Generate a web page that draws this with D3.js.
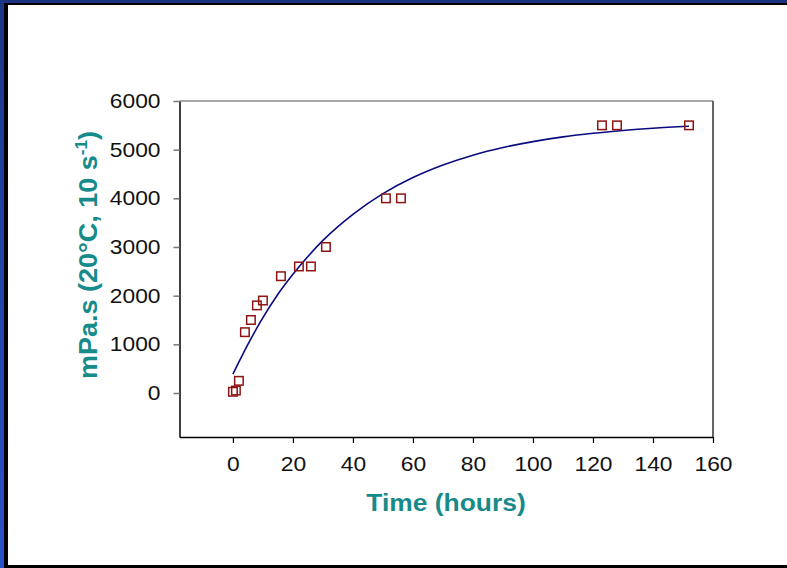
<!DOCTYPE html>
<html>
<head>
<meta charset="utf-8">
<script src="https://cdn.jsdelivr.net/npm/d3@7/dist/d3.min.js"></script>
<style>
  html, body { margin: 0; padding: 0; background: #fff; }
  svg { display: block; }
  text { font-family: "Liberation Sans", Arial, sans-serif; }
</style>
</head>
<body>
<svg id="chart" width="787" height="568"></svg>
<script>
// Measured viscosity over time
const timeHours = [0, 1, 2, 4, 6, 8, 10, 16, 22, 26, 31, 51, 56, 123, 128, 152];
const viscosity = [25, 50, 250, 1250, 1500, 1800, 1900, 2400, 2600, 2600, 3000, 4000, 4000, 5500, 5500, 5500];

// Fitted trend curve, sampled along time
const fitTime  = [0, 5, 10, 15, 20, 25, 30, 40, 50, 60, 70, 80, 90, 100, 110, 120, 130, 140, 152];
const fitValue = [390, 1000, 1550, 2030, 2440, 2805, 3135, 3672, 4096, 4427, 4685, 4887, 5044, 5166, 5262, 5336, 5394, 5440, 5481];

const xTicks = [0, 20, 40, 60, 80, 100, 120, 140, 160];
const yTicks = [0, 1000, 2000, 3000, 4000, 5000, 6000];

const svg = d3.select("#chart");
const W = 787, H = 568;

// Slide frame: blue bar with black inner line on left/top, black line at bottom
const defs = svg.append("defs");
const grad = defs.append("linearGradient").attr("id", "bluebar")
  .attr("x1", 0).attr("y1", 0).attr("x2", 0).attr("y2", 1);
grad.append("stop").attr("offset", "0%").attr("stop-color", "#1a3786");
grad.append("stop").attr("offset", "100%").attr("stop-color", "#2a52c9");

svg.append("rect").attr("x", 0).attr("y", 0).attr("width", W).attr("height", H).attr("fill", "#fff");
svg.append("rect").attr("x", 0).attr("y", 0).attr("width", W).attr("height", 3).attr("fill", "#1a3480");
svg.append("rect").attr("x", 0).attr("y", 3).attr("width", W).attr("height", 2).attr("fill", "#000");
svg.append("rect").attr("x", 0).attr("y", 0).attr("width", 4).attr("height", H).attr("fill", "url(#bluebar)");
svg.append("rect").attr("x", 4).attr("y", 3).attr("width", 4).attr("height", H).attr("fill", "#000");
svg.append("rect").attr("x", 4).attr("y", 565).attr("width", W).attr("height", 3).attr("fill", "#000");

// Plot area
const plotL = 179.5, plotR = 713, plotT = 101, plotB = 437;
const x = d3.scaleLinear().domain([-17.8, 160]).range([plotL, plotR]);
const y = d3.scaleLinear().domain([-904, 6000]).range([plotB, plotT]);

// Top and right frame lines
svg.append("line").attr("x1", plotL).attr("x2", plotR).attr("y1", plotT).attr("y2", plotT)
  .attr("stroke", "#8a8a8a").attr("stroke-width", 1.5);
svg.append("line").attr("x1", plotR).attr("x2", plotR).attr("y1", plotT).attr("y2", plotB)
  .attr("stroke", "#333").attr("stroke-width", 1.5);

// Axes
const fmt = d3.format("d");
const xAxis = svg.append("g").attr("transform", `translate(0,${plotB})`)
  .call(d3.axisBottom(x).tickValues(xTicks).tickFormat(fmt).tickSize(6).tickPadding(14).tickSizeOuter(0));
const yAxis = svg.append("g").attr("transform", `translate(${plotL},0)`)
  .call(d3.axisLeft(y).tickValues(yTicks).tickFormat(fmt).tickSize(6).tickPadding(13).tickSizeOuter(0));

xAxis.select(".domain").attr("stroke", "#000").attr("stroke-width", 1.5);
yAxis.select(".domain").attr("stroke", "#000").attr("stroke-width", 1.5);
xAxis.selectAll(".tick line").attr("stroke", "#000").attr("stroke-width", 1.2);
yAxis.selectAll(".tick line").attr("stroke", "#777").attr("stroke-width", 1.5);

// Tick labels, slightly widened
xAxis.selectAll(".tick text")
  .attr("font-size", 20).attr("fill", "#111")
  .attr("transform", "scale(1.14,1)");
yAxis.selectAll(".tick text")
  .attr("font-size", 20).attr("fill", "#111")
  .attr("transform", function () {
    const xx = +d3.select(this).attr("x");
    return `translate(${xx},0) scale(1.14,1) translate(${-xx},0)`;
  });

// Fitted curve
const line = d3.line().x((d, i) => x(fitTime[i])).y((d, i) => y(fitValue[i]))
  .curve(d3.curveMonotoneX);
svg.append("path").datum(fitValue).attr("d", line)
  .attr("fill", "none").attr("stroke", "#0a0a80").attr("stroke-width", 1.6);

// Data markers
const s = 8.5;
svg.append("g").selectAll("rect").data(timeHours).join("rect")
  .attr("x", (d) => x(d) - s / 2)
  .attr("y", (d, i) => y(viscosity[i]) - s / 2)
  .attr("width", s).attr("height", s)
  .attr("fill", "none")
  .attr("stroke", "#8e1414").attr("stroke-width", 1.5);

// Axis titles
const teal = "#178a8a";
svg.append("text")
  .attr("transform", "translate(446,511) scale(1.1,1)")
  .attr("text-anchor", "middle")
  .attr("font-size", 24).attr("font-weight", "bold").attr("fill", teal)
  .text("Time (hours)");

const yt = svg.append("text")
  .attr("transform", "translate(97,255) rotate(-90) scale(1.08,1)")
  .attr("text-anchor", "middle")
  .attr("font-size", 25).attr("font-weight", "bold").attr("fill", teal);
yt.append("tspan").text("mPa.s (20°C, 10 s");
yt.append("tspan").attr("font-size", 16).attr("dy", -10).text("-1");
yt.append("tspan").attr("dy", 10).text(")");
</script>
</body>
</html>
